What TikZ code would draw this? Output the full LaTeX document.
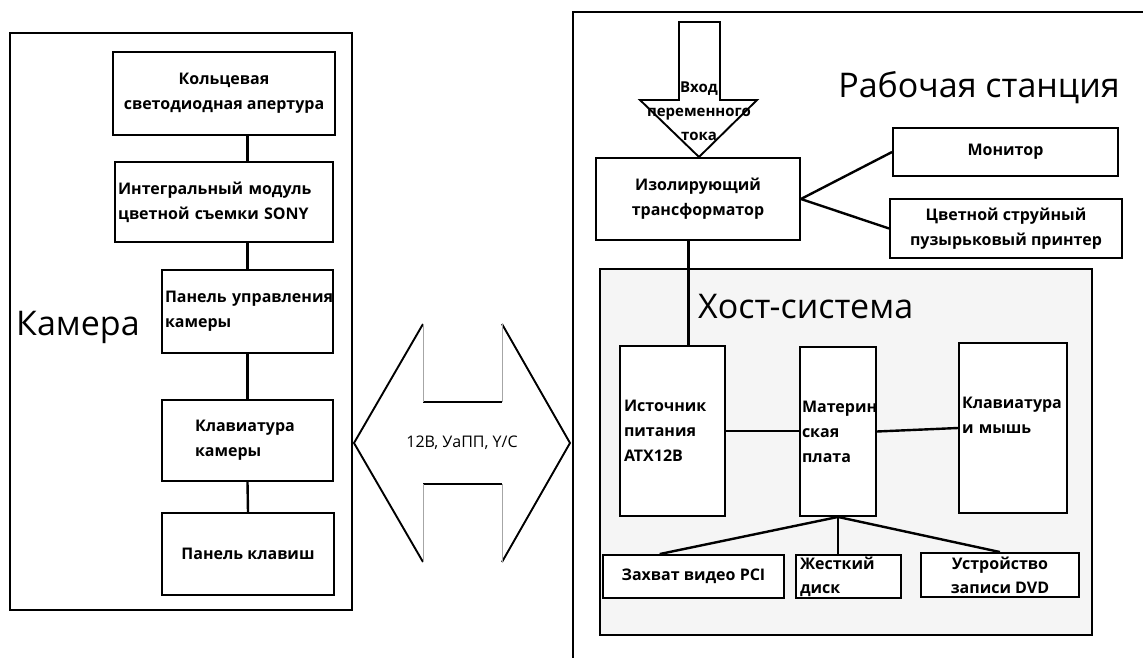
\documentclass[tikz,border=0pt]{standalone}
\usepackage{fontspec}
\setmainfont{Open Sans}
\usetikzlibrary{calc}
\tikzset{
  blk/.style={draw, line width=1.9pt, fill=white, font=\bfseries\fontsize{16}{25}\selectfont, inner sep=3pt, align=center},
  frm/.style={draw, line width=2.8pt},
  con/.style={line width=2.4pt},
  ttl/.style={font=\fontsize{34}{40}\selectfont, inner sep=0pt},
  arr/.style={line width=1.9pt},
  faint/.style={line width=1pt, black!35},
}
\begin{document}
\begin{tikzpicture}[x=1pt,y=-1pt]
\useasboundingbox (0,0) rectangle (1143,658);
\clip (0,0) rectangle (1143,658);
\fill[white] (0,0) rectangle (1143,658);
% ---------- Camera ----------
\draw[frm] (10,33) rectangle (352,610);
\node[ttl, anchor=base west] (camttl) at (16,335) {Камера};
\node[blk, minimum width=222, minimum height=83] (ring) at (224,93.5) {Кольцевая\\светодиодная апертура};
\node[blk, minimum width=218, minimum height=80, align=left, text width=212] (sony) at (224,202) {Интегральный модуль\\цветной съемки SONY};
\node[blk, minimum width=171, minimum height=83, align=left, text width=165] (panel) at (247.5,311.5) {Панель~управления\\камеры};
\node[blk, minimum width=171, minimum height=81, align=left, text width=105] (camkb) at (247.5,440.5) {Клавиатура\\камеры};
\node[blk, minimum width=172, minimum height=82] (keys) at (248,554) {Панель клавиш};
\draw[con] (ring.south -| panel.north) -- (sony.north -| panel.north);
\draw[con] (sony.south -| panel.north) -- (panel.north);
\draw[con] (panel.south) -- (camkb.north);
\draw[con] (camkb.south) -- (keys.north);
% ---------- link arrow ----------
\draw[arr] (423,324) -- (354,443) -- (423,562);
\draw[arr] (502,324) -- (570,443) -- (502,562);
\draw[line width=1.6pt] (423,402) -- (502,402) (423,484) -- (502,484);
\draw[faint] (423,324) -- (423,402) (502,324) -- (502,402) (423,484) -- (423,562) (502,484) -- (502,562);
\node[font=\fontsize{16}{20}\selectfont] (link) at (462,443) {12В, УаПП, Y/C};
% ---------- Workstation ----------
\draw[frm] (573,12) rectangle (1170,690);
\node[ttl, anchor=base] (wsttl) at (979,98) {Рабочая станция};
\draw[line width=1.9pt, fill=white] (679,22) -- (720,22) -- (720,100) -- (757,100) -- (699,157) -- (640,100) -- (679,100) -- cycle;
\node[font=\bfseries\fontsize{15}{24}\selectfont, align=center, inner sep=0pt] (acin) at (699,111) {Вход\\переменного\\тока};
\node[blk, minimum width=204, minimum height=82] (tr) at (698,199) {Изолирующий\\трансформатор};
\node[blk, minimum width=225, minimum height=48] (mon) at (1005.5,152) {Монитор};
\node[blk, minimum width=232, minimum height=59] (prn) at (1006,228.5) {Цветной струйный\\пузырьковый принтер};
\draw[con] (tr.east) -- (mon.west);
\draw[con] (tr.east) -- (prn.west);
% host system
\node[draw, line width=1.9pt, fill=black!4, minimum width=492, minimum height=366, inner sep=0pt] (host) at (846,452) {};
\node[ttl, anchor=base west] (hostttl) at (698,318) {Хост-система};
\node[blk, minimum width=105, minimum height=170, align=left, inner sep=4pt, text width=97] (psu) at (672.5,431) {Источник\\питания\\АТХ12В};
\node[blk, minimum width=76, minimum height=169, align=left, inner sep=2pt, text width=72] (mb) at (838,431.5) {Материн\\ская\\плата};
\node[blk, minimum width=108, minimum height=170, align=left, text width=102] (kb) at (1013,428) {Клавиатура\\и мышь\\~};
\coordinate (psutop) at ($(psu.north west)!0.65!(psu.north east)$);
\draw[con] (psutop) -- (tr.south -| psutop);
\draw[con] (psu.east) -- (psu.east -| mb.west);
\draw[con] (mb.east) -- (kb.west);
\node[blk, minimum width=181, minimum height=43] (cap) at (693.5,576.5) {Захват видео PCI};
\node[blk, minimum width=105, minimum height=43, inner ysep=0pt, align=left, text width=97, font=\bfseries\fontsize{16}{24}\selectfont] (hdd) at (848.5,576.5) {Жесткий\\диск};
\node[blk, minimum width=158, minimum height=44, inner ysep=0pt, font=\bfseries\fontsize{16}{24}\selectfont] (dvd) at (1000,575) {Устройство\\записи DVD};
\draw[con] (mb.south) -- ($(cap.north west)!0.315!(cap.north east)$);
\draw[con] (mb.south) -- (mb.south |- hdd.north);
\draw[con] (mb.south) -- (dvd.north);
\end{tikzpicture}
\end{document}
